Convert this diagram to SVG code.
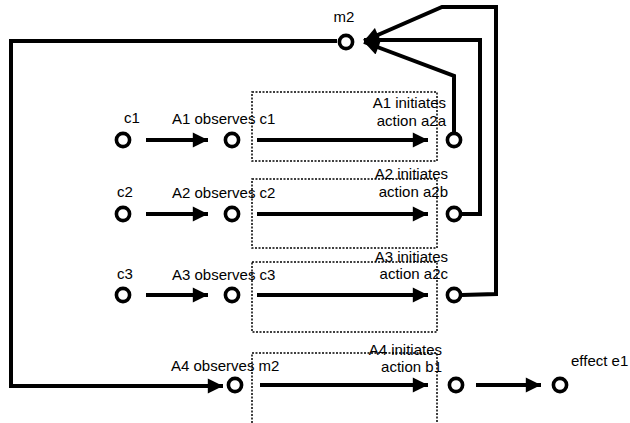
<svg xmlns="http://www.w3.org/2000/svg" width="630" height="423" viewBox="0 0 630 423">
<defs>
<style>
.n{fill:none;stroke:#000;stroke-width:3.6}
.c{fill:none;stroke:#000;stroke-width:4;stroke-linejoin:miter}
.a{fill:none;stroke:#000;stroke-width:4}
.b{fill:none;stroke:#000;stroke-width:1.5;stroke-dasharray:2 1.5}
text{font-family:"Liberation Sans",Arial,sans-serif;font-size:15px;fill:#000}
.e{text-anchor:end}
.m{text-anchor:middle}
</style>
<marker id="ah" viewBox="0 0 10 10" refX="10" refY="5" markerWidth="4.5" markerHeight="3.8" markerUnits="strokeWidth" orient="auto"><path d="M0,0 L10,5 L0,10 z" fill="#000"/></marker>
</defs>
<rect width="630" height="423" fill="#fff"/>
<g id="boxes">
<rect class="b" x="252" y="92" width="185" height="69"/>
<rect class="b" x="252" y="179" width="185" height="69"/>
<rect class="b" x="252" y="262" width="185" height="70"/>
<path class="b" d="M252,430 V353 H437 V430"/>
</g>
<g id="connectors">
<path class="a" d="M146,140 H208" marker-end="url(#ah)"/>
<path class="a" d="M257,140 H428" marker-end="url(#ah)"/>
<path class="a" d="M146,214 H208" marker-end="url(#ah)"/>
<path class="a" d="M257,214 H428" marker-end="url(#ah)"/>
<path class="a" d="M146,295 H208" marker-end="url(#ah)"/>
<path class="a" d="M257,295 H428" marker-end="url(#ah)"/>
<path class="a" d="M260,385 H428" marker-end="url(#ah)"/>
<path class="a" d="M476,385 H541" marker-end="url(#ah)"/>
<path class="c" d="M337,41 H11 V386 H223" marker-end="url(#ah)"/>
<path class="c" d="M462,295 L496,294 V7 H442 L364,41" marker-end="url(#ah)"/>
<path class="c" d="M462,214 H480 V40 H364" marker-end="url(#ah)"/>
<path class="c" d="M454,132 V76 L364,42" marker-end="url(#ah)"/>
</g>
<g id="m2"><circle class="n" cx="346" cy="42" r="6.6"/><text class="m" x="344" y="22">m2</text></g>
<g id="c1"><circle class="n" cx="123" cy="140" r="6.6"/><text x="124" y="123">c1</text></g>
<g id="A1obs"><circle class="n" cx="232" cy="140" r="6.6"/><text x="172" y="124">A1 observes c1</text></g>
<g id="a2a"><circle class="n" cx="454" cy="140" r="6.6"/><text class="e" x="446" y="108">A1 initiates</text><text class="e" x="446" y="126">action a2a</text></g>
<g id="c2"><circle class="n" cx="123" cy="214" r="6.6"/><text x="117" y="197">c2</text></g>
<g id="A2obs"><circle class="n" cx="232" cy="214" r="6.6"/><text x="172" y="198">A2 observes c2</text></g>
<g id="a2b"><circle class="n" cx="454" cy="214" r="6.6"/><text class="e" x="448" y="179">A2 initiates</text><text class="e" x="448" y="197">action a2b</text></g>
<g id="c3"><circle class="n" cx="123" cy="295" r="6.6"/><text x="117" y="279">c3</text></g>
<g id="A3obs"><circle class="n" cx="232" cy="295" r="6.6"/><text x="172" y="280">A3 observes c3</text></g>
<g id="a2c"><circle class="n" cx="454" cy="295" r="6.6"/><text class="e" x="448" y="262">A3 initiates</text><text class="e" x="448" y="279">action a2c</text></g>
<g id="A4obs"><circle class="n" cx="235" cy="385" r="6.6"/><text x="171" y="371">A4 observes m2</text></g>
<g id="b1"><circle class="n" cx="456" cy="385" r="6.6"/><text class="e" x="442" y="355">A4 initiates</text><text class="e" x="442" y="372">action b1</text></g>
<g id="e1"><circle class="n" cx="560" cy="385" r="6.6"/><text x="571" y="366">effect e1</text></g>
</svg>
